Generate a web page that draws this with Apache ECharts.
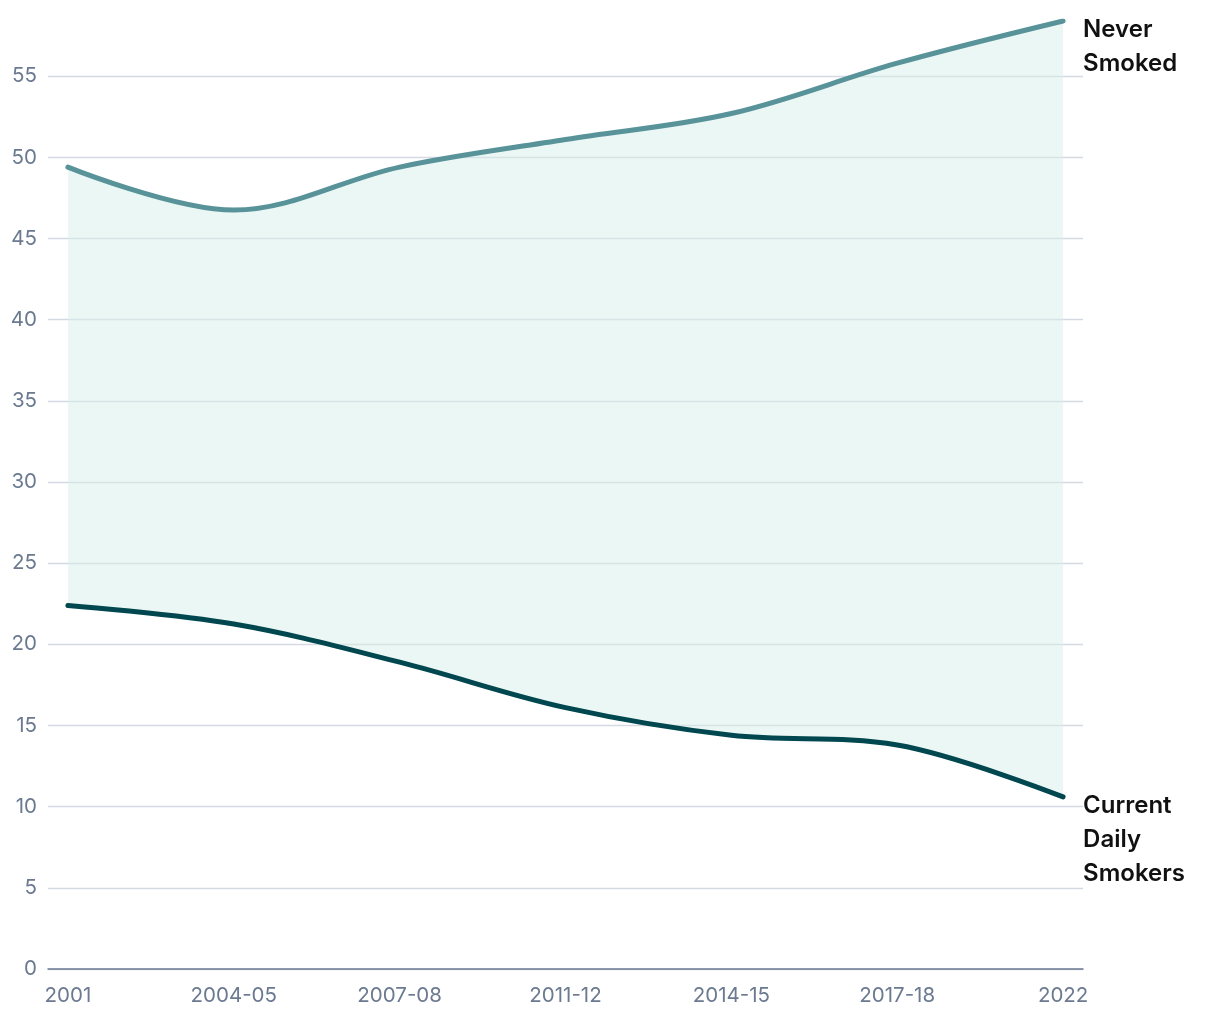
<!DOCTYPE html>
<html>
<head>
<meta charset="utf-8">
<script src="https://cdn.jsdelivr.net/npm/echarts@6/dist/echarts.min.js"></script>
<style>
html,body{margin:0;padding:0;background:#fff;}
#chart{width:1220px;height:1020px;}
</style>
</head>
<body>
<div id="chart"></div>
<script>
const categories = ['2001', '2004-05', '2007-08', '2011-12', '2014-15', '2017-18', '2022'];
const neverSmoked = [49.4, 46.75, 49.4, 51.1, 52.7, 55.8, 58.4];
const currentDaily = [22.4, 21.25, 18.9, 16.1, 14.4, 13.8, 10.6];
const yTicks = [0, 5, 10, 15, 20, 25, 30, 35, 40, 45, 50, 55];
const xTicks = categories.map((c, i) => i);

const FONT = 'Inter, "Noto Sans", sans-serif';
// value first so that stacking applies to the y dimension
const pts = arr => arr.map((v, i) => [v, i]);
const gap = neverSmoked.map((v, i) => [+(v - currentDaily[i]).toFixed(3), i]);
const ENC = { x: 1, y: 0 };
const SMOOTH = 0.35;

const chart = echarts.init(document.getElementById('chart'));
chart.setOption({
  animation: false,
  backgroundColor: '#ffffff',
  grid: { left: 48, right: 137, top: 21, bottom: 51, containLabel: false },
  xAxis: {
    type: 'value',
    min: -0.12, max: 6.12,
    axisLine: { show: true, lineStyle: { color: '#6b7a90', width: 1.5 } },
    axisTick: { show: false, customValues: xTicks },
    splitLine: { show: false },
    axisLabel: {
      customValues: xTicks,
      formatter: v => categories[Math.round(v)],
      color: '#6b7a90', fontFamily: FONT, fontSize: 20.5, margin: 16
    }
  },
  yAxis: {
    type: 'value',
    min: 0, max: 58.4,
    axisLine: { show: false },
    axisTick: { show: false, customValues: yTicks },
    axisLabel: {
      customValues: yTicks,
      color: '#6b7a90', fontFamily: FONT, fontSize: 20.5, margin: 11
    },
    splitLine: { show: true, lineStyle: { color: '#d5d9e3', width: 1.3 } }
  },
  series: [
    {
      name: 'base', type: 'line', stack: 'band', data: pts(currentDaily), encode: ENC,
      smooth: SMOOTH, symbol: 'none', lineStyle: { width: 0, opacity: 0 }, silent: true, z: 1
    },
    {
      name: 'band', type: 'line', stack: 'band', data: gap, encode: ENC,
      smooth: SMOOTH, symbol: 'none', lineStyle: { width: 0, opacity: 0 },
      areaStyle: { color: 'rgba(215,238,232,0.7)' }, silent: true, z: 1
    },
    {
      name: 'Current\nDaily\nSmokers', type: 'line', data: pts(currentDaily), encode: ENC,
      smooth: SMOOTH, symbol: 'none', z: 3,
      lineStyle: { color: '#00474f', width: 5, cap: 'round' },
      endLabel: {
        show: true, formatter: p => p.seriesName, distance: 0, offset: [20, -8],
        align: 'left', verticalAlign: 'top', color: '#111', fontFamily: FONT,
        fontSize: 24, fontWeight: 600, lineHeight: 34
      }
    },
    {
      name: 'Never\nSmoked', type: 'line', data: pts(neverSmoked), encode: ENC,
      smooth: SMOOTH, symbol: 'none', z: 3,
      lineStyle: { color: '#58939a', width: 5, cap: 'round' },
      endLabel: {
        show: true, formatter: p => p.seriesName, distance: 0, offset: [20, -8],
        align: 'left', verticalAlign: 'top', color: '#111', fontFamily: FONT,
        fontSize: 24, fontWeight: 600, lineHeight: 34
      }
    }
  ]
});
</script>
</body>
</html>
